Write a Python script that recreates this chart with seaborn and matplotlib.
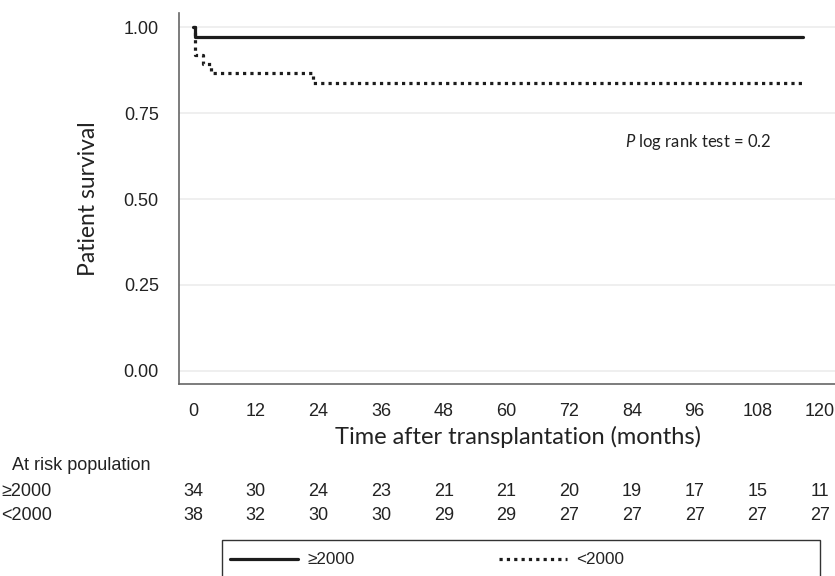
import numpy as np
import pandas as pd
import matplotlib
matplotlib.use("Agg")
import matplotlib.pyplot as plt
import matplotlib.transforms as mtransforms
from matplotlib.lines import Line2D
from matplotlib.patches import Rectangle
import seaborn as sns

# ---- data ----
time_hi = [0, 0.4, 116.7]
surv_hi = [1.0, 0.971, 0.971]
time_lo = [0, 0.4, 2.0, 3.5, 23.0, 116.7]
surv_lo = [1.0, 0.921, 0.895, 0.868, 0.838, 0.838]
groups = ["\u22652000", "<2000"]
x_ticks = [0, 12, 24, 36, 48, 60, 72, 84, 96, 108, 120]
y_ticks = [0.00, 0.25, 0.50, 0.75, 1.00]
at_risk_hi = [34, 30, 24, 23, 21, 21, 20, 19, 17, 15, 11]
at_risk_lo = [38, 32, 30, 30, 29, 29, 27, 27, 27, 27, 27]

df = pd.concat([
    pd.DataFrame({"time": time_hi, "surv": surv_hi, "group": groups[0]}),
    pd.DataFrame({"time": time_lo, "surv": surv_lo, "group": groups[1]}),
], ignore_index=True)

sns.set_style("white")
plt.rcParams["font.family"] = ["Liberation Sans", "DejaVu Sans"]
plt.rcParams["mathtext.fontset"] = "custom"
plt.rcParams["mathtext.it"] = "Lato:italic"
plt.rcParams["mathtext.rm"] = "Lato"

W, H = 835, 576
fig = plt.figure(figsize=(W / 100, H / 100), dpi=100)
ax_left, ax_right, ax_top, ax_bot = 179, 835, 13, 384
ax = fig.add_axes([ax_left / W, 1 - ax_bot / H, (ax_right - ax_left) / W, (ax_bot - ax_top) / H])

line_color = "#1c1c1c"
sns.lineplot(data=df, x="time", y="surv", hue="group", style="group",
             hue_order=groups, style_order=groups,
             palette={groups[0]: line_color, groups[1]: line_color},
             dashes={groups[0]: "", groups[1]: (1, 1.3)},
             drawstyle="steps-post", linewidth=2.3, legend=False, ax=ax,
             estimator=None, sort=False)

# axis geometry: 0 -> x=193px, 120 -> x=820px ; 1.0 -> y=27.5px, 0.0 -> y=370.7px
ppm = (820 - 193) / 120.0
ax.set_xlim(-(193 - ax_left) / ppm, (ax_right - 193) / ppm)
ppu = 370.7 - 27.5
ax.set_ylim(-(ax_bot - 370.7) / ppu, (370.7 - ax_top) / ppu)

ax.set_xticks(x_ticks)
ax.set_yticks(y_ticks)
ax.set_yticklabels([f"{v:.2f}" for v in y_ticks])
ax.tick_params(axis="both", labelsize=13, color="#555555", length=6.5, width=1.0,
               labelcolor="#222222")
ax.tick_params(axis="y", pad=8)
ax.tick_params(axis="x", pad=7)
ax.yaxis.grid(True, color="#eeeeee", linewidth=1.3)
ax.set_axisbelow(True)
for s in ["top", "right"]:
    ax.spines[s].set_visible(False)
for s in ["left", "bottom"]:
    ax.spines[s].set_color("#666666")
    ax.spines[s].set_linewidth(1.2)

ax.set_ylabel("Patient survival", fontsize=16.5, family="Lato", color="#222222", labelpad=18)
ax.set_xlabel("Time after transplantation (months)", fontsize=17, family="Lato",
              color="#222222", labelpad=4)
ax.xaxis.set_label_coords((518 - ax_left) / (ax_right - ax_left), -(437 - ax_bot) / (ax_bot - ax_top))
ax.xaxis.label.set_va("center")

ax.text(82.7, 0.667, r"$\it{P}$ log rank test = 0.2", fontsize=12, family="Lato",
        va="center", ha="left", color="#222222")

# at risk table
fs_tab = 13
trans = mtransforms.blended_transform_factory(ax.transData, fig.transFigure)
fig.text(12 / W, 1 - 465 / H, "At risk population", fontsize=fs_tab, va="center", ha="left",
         color="#222222")
fig.text(1 / W, 1 - 492 / H, groups[0], fontsize=fs_tab, va="center", ha="left", color="#222222")
fig.text(1 / W, 1 - 516 / H, groups[1], fontsize=fs_tab, va="center", ha="left", color="#222222")
for xt, a, b in zip(x_ticks, at_risk_hi, at_risk_lo):
    ax.text(xt, 1 - 492 / H, str(a), transform=trans, fontsize=fs_tab, ha="center",
            va="center", color="#222222")
    ax.text(xt, 1 - 516 / H, str(b), transform=trans, fontsize=fs_tab, ha="center",
            va="center", color="#222222")

# legend (frame drawn as a separate box that runs off the bottom edge)
fig.patches.append(Rectangle((222 / W, -0.05), (820 - 222) / W, 0.05 + (576 - 540) / H,
                             transform=fig.transFigure, fill=False,
                             edgecolor="#333333", linewidth=1.0))
handles = [Line2D([], [], color=line_color, lw=2.3),
           Line2D([], [], color=line_color, lw=2.3, linestyle=(0, (1, 1.3)))]
leg = fig.legend(handles, groups, loc="center left",
                 bbox_to_anchor=(230 / W, 1 - 560 / H), ncol=2, fontsize=12.3,
                 frameon=False, handlelength=4.0, handletextpad=0.55,
                 columnspacing=8.4, borderpad=0, borderaxespad=0)
for t in leg.get_texts():
    t.set_color("#222222")

fig.savefig("out.png", dpi=100)
